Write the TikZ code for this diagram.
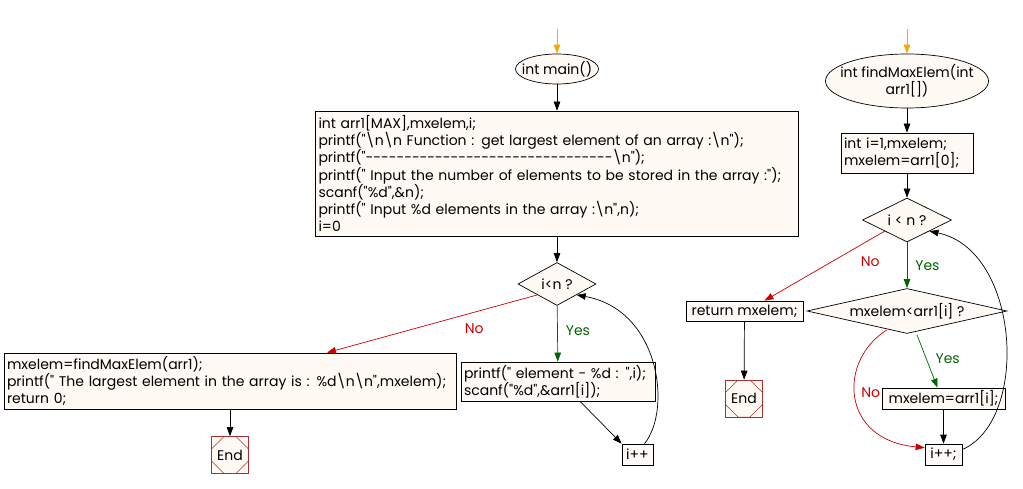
\documentclass[tikz,border=0pt]{standalone}
\usepackage{fontspec}
\usetikzlibrary{arrows.meta,shapes.geometric}
\newfontfamily\flowfont{Poppins}
\definecolor{boxfill}{HTML}{FFFAF3}
\definecolor{nored}{HTML}{CC0000}
\definecolor{yesgreen}{HTML}{006400}
\definecolor{startorange}{HTML}{FFA500}
\definecolor{endred}{HTML}{A83232}
\newcommand\bsn{\textbackslash n}
\newcommand\flowtext{\flowfont\fontsize{14}{17.3}\selectfont}

\begin{document}
\begin{tikzpicture}[x=1pt,y=-1pt,
  every node/.style={font=\flowtext, inner sep=3pt},
  flowbox/.style={draw, fill=boxfill, rectangle, align=left, line width=0.7pt},
  smallbox/.style={draw, fill=boxfill, rectangle, align=center, line width=0.7pt, minimum height=21pt, inner sep=1pt},
  terminal/.style={draw, fill=boxfill, ellipse, align=center, line width=0.7pt, inner ysep=0pt},
  decision/.style={draw, fill=boxfill, diamond, line width=0.7pt, inner sep=1pt},
  endbox/.style={draw=endred, fill=boxfill, rectangle, line width=0.7pt, minimum width=37pt, minimum height=37pt,
    path picture={\draw[endred, line width=0.5pt]
      ([xshift=-6pt]path picture bounding box.north) -- ([yshift=6pt]path picture bounding box.west)
      -- ([yshift=-6pt]path picture bounding box.west) -- ([xshift=-6pt]path picture bounding box.south)
      -- ([xshift=6pt]path picture bounding box.south) -- ([yshift=-6pt]path picture bounding box.east)
      -- ([yshift=6pt]path picture bounding box.east) -- ([xshift=6pt]path picture bounding box.north) -- cycle;}},
  flow/.style={draw, line width=0.7pt, -{Triangle[length=9pt,width=6.5pt]}},
  yesflow/.style={flow, draw=yesgreen, -{Triangle[length=9pt,width=6.5pt,fill=yesgreen]}},
  noflow/.style={flow, draw=nored, -{Triangle[length=9pt,width=6.5pt,fill=nored]}},
  startflow/.style={flow, draw=startorange, -{Triangle[length=9pt,width=6.5pt,fill=startorange]}},
  yeslabel/.style={text=yesgreen},
  nolabel/.style={text=nored}]
  \useasboundingbox (0,0) rectangle (1023,489);

  % main()
  \coordinate (in1) at (557,29);
  \node[terminal, inner xsep=-8pt, minimum width=83pt, minimum height=30pt] (main) at (557,69) {int main()};
  \node[flowbox, text width=477pt, minimum height=125pt] (decl) at (557,173.5) {int arr1[MAX],mxelem,i;\\
    printf("\bsn\bsn{} Function : get largest element of an array :\bsn");\\
    printf("--------------------------------\bsn");\\
    printf(" Input the number of elements to be stored in the array :");\\
    scanf("\%d",\&n);\\
    printf(" Input \%d elements in the array :\bsn",n);\\
    i=0};
  \node[decision, aspect=1.8, minimum width=78pt, minimum height=43pt] (cond1) at (557,284) {i<n ?};
  \node[flowbox, text width=446pt, minimum height=56pt] (result) at (230,381) {mxelem=findMaxElem(arr1);\\
    printf(" The largest element in the array is : \%d\bsn\bsn",mxelem);\\
    return 0;};
  \node[endbox] (end1) at (230,455) {End};
  \node[flowbox, text width=188pt, minimum height=39pt] (body) at (558,381.5) {printf(" element - \%d : ",i);\\
    scanf("\%d",\&arr1[i]);};
  \node[smallbox, minimum width=31pt] (inc1) at (637.5,454.5) {i++};

  \draw[startflow] (in1) -- (main);
  \draw[flow] (main) -- (decl);
  \draw[flow] (decl) -- (cond1);
  \draw[yesflow] (cond1) -- (body) node[yeslabel, pos=.45, right=5pt] {Yes};
  \draw[noflow] (cond1.south west) -- ([xshift=97pt]result.north) node[nolabel, pos=.3, below=8pt] {No};
  \draw[flow] (result) -- (end1);
  \draw[flow] ([xshift=22pt]body.south) -- (inc1.north west);
  \draw[flow] ([xshift=7pt]inc1.north) .. controls (672,410) and (660,310) .. (cond1.south east);

  % findMaxElem()
  \coordinate (in2) at (907,29);
  \node[terminal, inner xsep=-12pt, minimum width=163pt, minimum height=54pt] (fmax) at (907,81) {int findMaxElem(int\\ arr1[])};
  \node[flowbox, text width=126pt, minimum height=40pt] (init) at (907,153) {int i=1,mxelem;\\ mxelem=arr1[0];};
  \node[decision, aspect=2, minimum width=89pt, minimum height=44pt] (cond2) at (907,220) {i < n ?};
  \node[smallbox, minimum width=117pt, minimum height=20pt] (ret) at (744.5,311) {return mxelem;};
  \node[endbox] (end2) at (744,398.5) {End};
  \node[decision, aspect=4.4, minimum width=200pt, minimum height=45pt] (cond3) at (907,311) {mxelem<arr1[i] ?};
  \node[smallbox, minimum width=123pt] (assign) at (943.5,398.5) {mxelem=arr1[i];};
  \node[smallbox, minimum width=37pt] (inc2) at (943.5,454.5) {i++;};

  \draw[startflow] (in2) -- (fmax);
  \draw[flow] (fmax) -- (init);
  \draw[flow] (init) -- (cond2);
  \draw[noflow] (cond2.south west) -- ([xshift=20pt]ret.north) node[nolabel, pos=.12, below=14pt] {No};
  \draw[yesflow] (cond2) -- (cond3) node[yeslabel, pos=.5, right=5pt] {Yes};
  \draw[flow] (ret) -- (end2);
  \draw[yesflow] ([xshift=10pt,yshift=-1pt]cond3.south) -- ([xshift=-6pt]assign.north) node[yeslabel, pos=.45, right=6pt] {Yes};
  \draw[noflow] ([xshift=-20pt,yshift=4pt]cond3.south) .. controls (838,360) and (840,440) .. ([yshift=-4pt]inc2.north west)
    node[nolabel, pos=.47, right=3pt] {No};
  \draw[flow] (assign) -- (inc2);
  \draw[flow] ([yshift=5pt]inc2.east) .. controls (1030,420) and (1020,250) .. (cond2.south east);
\end{tikzpicture}
\end{document}
